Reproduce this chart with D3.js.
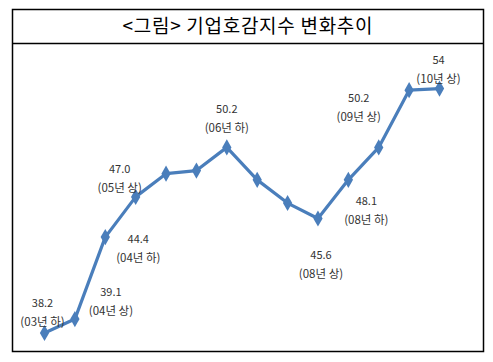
<!DOCTYPE html>
<html>
<head>
<meta charset="utf-8">
<script src="https://cdn.jsdelivr.net/npm/d3@7"></script>
<style>
  html, body { margin: 0; padding: 0; background: #fff; }
  svg { display: block; }
  text { font-family: "Noto Sans CJK KR", "Noto Sans", sans-serif; }
</style>
</head>
<body>
<svg id="chart" width="493" height="362"></svg>
<script>
const title = "<그림> 기업호감지수 변화추이";
const categories = ["03년 하","04년 상","04년 하","05년 상","05년 하","06년 상","06년 하","07년 상","07년 하","08년 상","08년 하","09년 상","09년 하","10년 상"];
const values = [38.2, 39.1, 44.4, 47.0, 48.5, 48.7, 50.2, 48.1, 46.6, 45.6, 48.1, 50.2, 53.9, 54];
const labelIndices = [0, 1, 2, 3, 6, 9, 10, 11, 13];
const labelValueTexts = ["38.2", "39.1", "44.4", "47.0", "50.2", "45.6", "48.1", "50.2", "54"];

// layout: label offsets (px) relative to each labelled point
const labelOffsets = [
  {dx: -2, dy: -31}, {dx: 36, dy: -28}, {dx: 33, dy: 1}, {dx: -16, dy: -29},
  {dx: 0, dy: -39}, {dx: 3, dy: 35}, {dx: 18, dy: 20}, {dx: -20, dy: -50}, {dx: -1, dy: -30}
];

const svg = d3.select("#chart");

// frame
svg.append("rect").attr("x", 12.5).attr("y", 9.5).attr("width", 471).attr("height", 342)
  .attr("fill", "none").attr("stroke", "#000").attr("stroke-width", 1.5);
svg.append("line").attr("x1", 12.5).attr("x2", 483.5).attr("y1", 43.5).attr("y2", 43.5)
  .attr("stroke", "#000").attr("stroke-width", 1.5);

svg.append("text").attr("x", 247.5).attr("y", 24).attr("text-anchor", "middle")
  .attr("dominant-baseline", "central").attr("font-size", 19).attr("fill", "#000")
  .attr("textLength", 250).attr("lengthAdjust", "spacing")
  .text(title);

const x = d3.scalePoint().domain(categories).range([44.5, 439.5]);
const y = d3.scaleLinear().domain([38.2, 54]).range([333, 88.6]);

const data = categories.map((c, i) => ({c, v: values[i]}));

svg.append("path").datum(data)
  .attr("fill", "none").attr("stroke", "#4a7ebb").attr("stroke-width", 3.2)
  .attr("stroke-linejoin", "round")
  .attr("d", d3.line().x(d => x(d.c)).y(d => y(d.v)));

svg.selectAll(".mk").data(data).join("path").attr("class", "mk")
  .attr("transform", d => `translate(${x(d.c)},${y(d.v)})`)
  .attr("d", d3.symbol().type(d3.symbolDiamond).size(75))
  .attr("fill", "#4a7ebb");

const lab = svg.selectAll(".lab").data(labelIndices).join("g").attr("class", "lab")
  .attr("transform", (idx, k) => `translate(${x(categories[idx]) + labelOffsets[k].dx},${y(values[idx]) + labelOffsets[k].dy})`);
lab.append("text").attr("text-anchor", "middle").attr("dominant-baseline", "central")
  .attr("font-size", 11).attr("fill", "#333")
  .text((idx, k) => labelValueTexts[k]);
lab.append("text").attr("text-anchor", "middle").attr("dominant-baseline", "central")
  .attr("y", 19).attr("font-size", 11.5).attr("fill", "#333")
  .text(idx => "(" + categories[idx] + ")");
</script>
</body>
</html>
